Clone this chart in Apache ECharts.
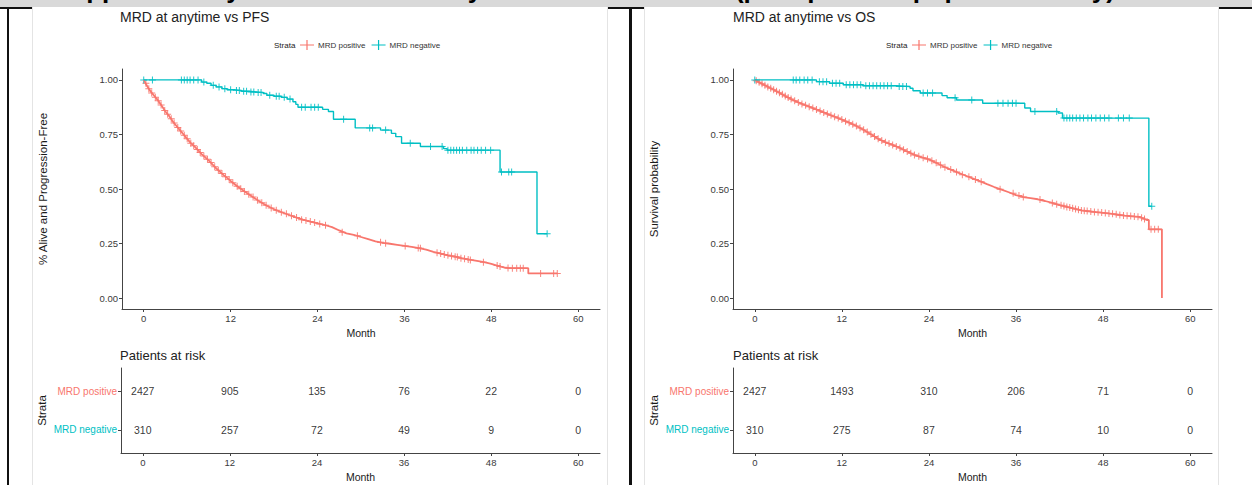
<!DOCTYPE html>
<html>
<head>
<meta charset="utf-8">
<script src="https://cdn.jsdelivr.net/npm/echarts@6.0.0/dist/echarts.min.js"></script>
<style>
  body { margin: 0; background: #fff; font-family: "Liberation Sans", Arial, sans-serif; }
  #page { position: relative; width: 1252px; height: 485px; overflow: hidden; background: #fff; }
  .banner { position: absolute; left: 0; top: 0; width: 1252px; height: 7px; background: #d9d9d9; overflow: hidden; }
  .banner span { position: absolute; left: 53px; top: -24px; font: bold 26px/26px "Liberation Sans", Arial, sans-serif; color: #000; white-space: nowrap; }
  .hline { position: absolute; left: 0; top: 7px; width: 1252px; height: 2px; background: #111; }
  .vline { position: absolute; top: 7px; bottom: 0; background: #111; }
  .panel { position: absolute; top: 7px; bottom: 0; background: #fff; border-left: 1px solid #e4e4e4; border-right: 1px solid #e4e4e4; }
  #main { position: absolute; left: 0; top: 0; width: 1252px; height: 485px; }
</style>
</head>
<body>
<div id="page">
  <div class="banner"><span>Supplementary: MRD status at anytime vs PFS and OS (pre-specified population only)</span></div>
  <div class="hline"></div>
  <div class="vline" style="left:7px;width:2px"></div>
  <div class="vline" style="left:629px;width:3px"></div>
  <div class="panel" style="left:32px;width:574px"></div>
  <div class="panel" style="left:644px;width:573px"></div>
  <div id="main"></div>
</div>
<script>
var RED = '#F8766D';
var TEAL = '#00BFC4';

// month ticks shared by all x axes
var monthTicks = [0, 12, 24, 36, 48, 60];
var survTicks = [0, 0.25, 0.5, 0.75, 1];

// PFS, MRD positive: [month, survival]
var pfsPos = [[0,1.00],[0.5,0.97],[1,0.945],[1.5,0.925],[2,0.905],[2.5,0.88],[3,0.855],[3.5,0.835],[4,0.81],[4.5,0.79],
  [5,0.77],[5.5,0.75],[6,0.73],[6.5,0.71],[7,0.695],[7.5,0.678],[8,0.66],[8.5,0.645],[9,0.63],[10,0.595],[11,0.565],
  [12,0.537],[13,0.51],[14,0.487],[15,0.465],[16,0.443],[17,0.423],[18,0.407],[19,0.394],[20,0.382],[21,0.37],[22,0.36],
  [23,0.351],[24,0.343],[25,0.335],[26,0.325],[27,0.31],[28,0.297],[29,0.29],[30,0.28],[31,0.27],[32,0.26],[33,0.253],
  [34,0.249],[35,0.244],[36,0.239],[37,0.235],[38,0.229],[39,0.222],[40,0.212],[41,0.204],[42,0.196],[43,0.19],[44,0.182],
  [45,0.176],[46,0.171],[47,0.165],[48,0.157],[49,0.147],[50,0.139],[50.5,0.137],[53.1,0.137],[53.1,0.113],[57.1,0.113]];
var pfsPosCens = [[0.3,0.985],[0.7,0.96],[1.1,0.94],[1.6,0.92],[2.0,0.905],[2.4,0.885],[2.9,0.86],[3.3,0.843],[3.8,0.822],
  [4.2,0.802],[4.7,0.782],[5.1,0.766],[5.6,0.746],[6.0,0.73],[6.5,0.71],[6.9,0.698],[7.4,0.681],[7.8,0.667],[8.3,0.651],
  [8.8,0.636],[9.3,0.621],[9.8,0.602],[10.3,0.586],[10.8,0.571],[11.3,0.556],[11.8,0.543],[12.3,0.529],[12.9,0.513],
  [13.4,0.501],[13.9,0.489],[14.5,0.476],[15.1,0.463],[15.7,0.449],[16.3,0.437],[16.9,0.425],[17.6,0.413],[18.3,0.403],
  [19.0,0.394],[19.7,0.386],[20.4,0.377],[21.1,0.369],[21.8,0.359],[22.4,0.356],[23.0,0.351],[23.6,0.346],[24.3,0.34],
  [25.1,0.334],[27.4,0.302],[29.5,0.286],[32.7,0.256],[33.4,0.251],[36.1,0.239],[37.9,0.23],[38.2,0.228],[40.5,0.208],
  [41.0,0.204],[41.5,0.2],[42.0,0.196],[42.5,0.193],[43.0,0.19],[43.3,0.188],[43.8,0.183],[44.3,0.18],[44.8,0.177],
  [45.1,0.175],[46.9,0.164],[48.8,0.149],[49.2,0.145],[50.3,0.138],[50.9,0.137],[51.5,0.137],[52.0,0.137],[52.4,0.137],
  [54.8,0.113],[56.6,0.113],[57.1,0.113]];

// PFS, MRD negative: step points [month, survival after the step]
var pfsNeg = [[0,1.00],[8.0,0.99],[8.7,0.985],[9.3,0.975],[10,0.968],[10.8,0.96],[11.5,0.955],[12.5,0.952],[13.5,0.948],
  [14.5,0.945],[15.5,0.942],[16.5,0.938],[17,0.93],[18,0.925],[19,0.92],[19.8,0.912],[20.6,0.9],[21,0.888],[21.3,0.875],
  [24.7,0.865],[25.5,0.855],[26.2,0.82],[29.2,0.78],[32.7,0.77],[34.2,0.755],[34.8,0.74],[35.6,0.71],[38.2,0.695],
  [41.4,0.685],[41.9,0.678],[49.2,0.578],[54.3,0.295],[55.7,0.295]];
var pfsNegCens = [[0,1],[1.2,1],[5.2,1],[5.6,1],[6.0,1],[6.4,1],[6.9,1],[7.5,1],[8.3,0.99],[9.6,0.975],[10.4,0.968],
  [11.2,0.96],[12,0.955],[12.8,0.952],[13.2,0.952],[13.8,0.948],[14.2,0.948],[14.8,0.945],[15.2,0.945],[15.8,0.942],
  [16.2,0.942],[17.4,0.93],[18.3,0.925],[18.7,0.925],[19.4,0.92],[20.2,0.912],[21.8,0.875],[22.3,0.875],[23.1,0.875],
  [23.6,0.875],[24.1,0.875],[27.6,0.82],[31.2,0.78],[31.6,0.78],[33.4,0.77],[36.8,0.71],[39.6,0.695],[41.2,0.695],
  [42.0,0.678],[42.4,0.678],[42.8,0.678],[43.2,0.678],[43.6,0.678],[44.0,0.678],[44.6,0.678],[45.2,0.678],[45.6,0.678],
  [46.1,0.678],[46.6,0.678],[47.2,0.678],[47.9,0.678],[49.4,0.578],[50.4,0.578],[50.8,0.578],[55.7,0.295]];

// OS, MRD positive
var osPos = [[0,1.0],[1,0.982],[2,0.965],[3,0.948],[4,0.93],[5,0.912],[6,0.897],[7,0.884],[8,0.871],[9,0.858],[10,0.844],
  [11,0.831],[12,0.818],[13,0.804],[14,0.789],[15,0.771],[16,0.751],[17,0.73],[18,0.714],[19,0.702],[20,0.688],[21,0.672],
  [22,0.656],[23,0.645],[24,0.636],[25,0.62],[26,0.603],[27,0.589],[28,0.575],[29,0.562],[30,0.549],[31,0.536],[32,0.522],
  [33,0.509],[34,0.497],[35,0.485],[36,0.472],[37,0.463],[38,0.458],[39,0.453],[40,0.445],[41,0.436],[42,0.426],[43,0.418],
  [44,0.41],[45,0.402],[46,0.398],[47,0.394],[48,0.391],[49,0.387],[50,0.382],[51,0.378],[52,0.375],[53,0.372],[54,0.358],
  [54.3,0.358],[54.3,0.315],[56.1,0.315],[56.1,0.0]];
var osPosCens = [[0.2,0.996],[0.6,0.989],[1.0,0.982],[1.4,0.975],[1.8,0.968],[2.2,0.962],[2.6,0.955],[3.0,0.948],[3.4,0.941],
  [3.8,0.934],[4.2,0.926],[4.6,0.919],[5.0,0.912],[5.5,0.905],[6.0,0.897],[6.5,0.89],[7.0,0.884],[7.5,0.877],[8.0,0.871],
  [8.5,0.864],[9.0,0.858],[9.5,0.851],[10.0,0.844],[10.5,0.838],[11.0,0.831],[11.5,0.825],[12.0,0.818],[12.5,0.811],
  [13.0,0.804],[13.5,0.797],[14.0,0.789],[14.5,0.78],[15.0,0.771],[15.5,0.761],[16.0,0.751],[16.5,0.741],[17.0,0.73],
  [17.5,0.722],[18.0,0.714],[18.5,0.708],[19.0,0.702],[19.5,0.695],[20.0,0.688],[20.5,0.68],[21.0,0.672],[21.5,0.664],
  [22.0,0.656],[22.6,0.65],[23.2,0.643],[23.8,0.638],[24.4,0.63],[25.0,0.62],[25.6,0.61],[26.2,0.6],[27.0,0.589],
  [27.8,0.578],[28.6,0.565],[29.5,0.556],[30.4,0.544],[31.2,0.533],[33.8,0.499],[35.6,0.48],[36.4,0.47],[37.0,0.463],
  [39.3,0.452],[41.0,0.436],[41.6,0.43],[42.2,0.425],[42.6,0.422],[43.0,0.418],[43.4,0.415],[43.8,0.412],[44.2,0.408],
  [44.6,0.405],[45.0,0.402],[45.4,0.4],[45.8,0.399],[46.3,0.397],[46.8,0.395],[47.3,0.393],[47.8,0.392],[48.3,0.39],
  [48.8,0.388],[49.3,0.386],[49.8,0.384],[50.3,0.381],[50.8,0.379],[51.3,0.377],[51.8,0.376],[52.3,0.374],[52.8,0.373],
  [53.3,0.368],[53.7,0.363],[54.6,0.315],[55.1,0.315],[55.6,0.315]];

// OS, MRD negative
var osNeg = [[0,1],[8.5,0.992],[10.3,0.985],[12.2,0.978],[14.9,0.973],[19.5,0.97],[21.4,0.962],[21.8,0.95],[22.8,0.94],
  [25.8,0.928],[26.5,0.918],[27.8,0.908],[31.4,0.893],[37.2,0.871],[38.0,0.855],[41.8,0.848],[42.4,0.825],[54.3,0.421],
  [54.7,0.421]];
var osNegCens = [[0,1],[5.3,1],[5.7,1],[6.2,1],[6.8,1],[7.3,1],[7.9,1],[8.9,0.992],[9.4,0.992],[9.9,0.992],[10.7,0.985],
  [11.2,0.985],[11.7,0.985],[12.6,0.978],[13.1,0.978],[13.6,0.978],[14.1,0.978],[14.6,0.978],[15.3,0.973],[15.8,0.973],
  [16.3,0.973],[16.8,0.973],[17.3,0.973],[17.8,0.973],[18.3,0.973],[18.8,0.973],[19.9,0.97],[20.4,0.97],[20.9,0.97],
  [23.2,0.94],[23.8,0.94],[24.5,0.94],[27.6,0.918],[29.9,0.908],[33.5,0.893],[34.2,0.893],[34.9,0.893],[35.5,0.893],
  [36.0,0.893],[38.6,0.855],[41.6,0.855],[42.6,0.825],[43.0,0.825],[43.4,0.825],[43.8,0.825],[44.3,0.825],[44.8,0.825],
  [45.3,0.825],[45.9,0.825],[46.4,0.825],[47.0,0.825],[47.6,0.825],[48.2,0.825],[48.8,0.825],[50.1,0.825],[50.8,0.825],
  [51.6,0.825],[54.7,0.421]];

// numbers at risk at monthTicks
var pfsRiskPos = [2427, 905, 135, 76, 22, 0];
var pfsRiskNeg = [310, 257, 72, 49, 9, 0];
var osRiskPos = [2427, 1493, 310, 206, 71, 0];
var osRiskNeg = [310, 275, 87, 74, 10, 0];

var plusPath = 'path://M4.3,0h1.4v4.3h4.3v1.4h-4.3v4.3h-1.4v-4.3h-4.3v-1.4h4.3z';
var legendIcon = 'path://M0,4.4h14v1.2h-14z M6.4,0h1.2v10h-1.2z';
var FONT = '"Liberation Sans", Arial, sans-serif';

function xAxis(gi) {
  return {
    type: 'value', gridIndex: gi, min: -3, max: 63,
    name: 'Month', nameLocation: 'middle', nameGap: 18,
    nameTextStyle: { fontSize: 10.5, color: '#1a1a1a', fontFamily: FONT },
    axisLine: { onZero: false, lineStyle: { color: '#444', width: 1 } },
    axisTick: { customValues: monthTicks, length: 3, lineStyle: { color: '#444' } },
    axisLabel: { customValues: monthTicks, fontSize: 9.5, color: '#3a3a3a', margin: 4, fontFamily: FONT },
    splitLine: { show: false }
  };
}

function survAxis(gi, title) {
  return {
    type: 'value', gridIndex: gi, min: -0.05, max: 1.05,
    name: title, nameLocation: 'middle', nameGap: 73,
    nameTextStyle: { fontSize: 11.5, color: '#1a1a1a', fontFamily: FONT },
    axisLine: { onZero: false, lineStyle: { color: '#444', width: 1 } },
    axisTick: { customValues: survTicks, length: 3, lineStyle: { color: '#444' } },
    axisLabel: { customValues: survTicks, fontSize: 9.5, color: '#3a3a3a', margin: 4, fontFamily: FONT,
      formatter: function (v) { return v.toFixed(2); } },
    splitLine: { show: false }
  };
}

function strataAxis(gi) {
  return {
    type: 'value', gridIndex: gi, min: 0.4, max: 2.6,
    name: 'Strata', nameLocation: 'middle', nameGap: 73,
    nameTextStyle: { fontSize: 11.5, color: '#1a1a1a', fontFamily: FONT },
    axisLine: { onZero: false, lineStyle: { color: '#444', width: 1 } },
    axisTick: { customValues: [1, 2], length: 3, lineStyle: { color: '#444' } },
    axisLabel: {
      customValues: [1, 2], margin: 4, fontFamily: FONT,
      formatter: function (v) { return v === 2 ? '{pos|MRD positive}' : '{neg|MRD negative}'; },
      rich: {
        pos: { color: RED, fontSize: 10, fontFamily: FONT },
        neg: { color: TEAL, fontSize: 10, fontFamily: FONT }
      }
    },
    splitLine: { show: false }
  };
}

function kmLine(name, data, color, idx, step) {
  return {
    name: name, type: 'line', xAxisIndex: idx, yAxisIndex: idx, data: data,
    step: step ? 'end' : false, showSymbol: false, silent: true,
    itemStyle: { color: color }, lineStyle: { color: color, width: step ? 1.4 : 1.8 }
  };
}

function censor(name, data, color, idx) {
  return {
    name: name, type: 'scatter', xAxisIndex: idx, yAxisIndex: idx, data: data,
    symbol: plusPath, symbolSize: 7, silent: true,
    itemStyle: { color: color, opacity: 0.9 }
  };
}

function riskRow(counts, row, idx) {
  return {
    type: 'scatter', xAxisIndex: idx, yAxisIndex: idx, silent: true,
    data: counts.map(function (n, i) { return [monthTicks[i], row, n]; }),
    symbolSize: 1, itemStyle: { color: 'transparent' },
    label: { show: true, position: 'inside', color: '#000', fontSize: 10.5, fontFamily: FONT,
      formatter: function (p) { return String(p.value[2]); } }
  };
}

function legend(left) {
  return {
    left: left, top: 40, padding: 0, itemWidth: 14, itemHeight: 10, itemGap: 6,
    icon: legendIcon, selectedMode: false,
    data: ['MRD positive', 'MRD negative'],
    textStyle: { fontSize: 8, color: '#333', fontFamily: FONT, padding: [0, 0, 0, -1] }
  };
}

function title(text, left, top, size) {
  return { text: text, left: left, top: top, padding: 0,
    textStyle: { fontSize: size, fontWeight: 'normal', color: '#222', fontFamily: FONT } };
}

var chart = echarts.init(document.getElementById('main'), null, { renderer: 'svg' });
chart.setOption({
  animation: false,
  backgroundColor: 'transparent',
  title: [
    title('MRD at anytime vs PFS', 120, 10, 14),
    title('MRD at anytime vs OS', 733, 10, 14),
    title('Strata', 274, 41, 8),
    title('Strata', 886, 41, 8),
    title('Patients at risk', 120, 349, 13),
    title('Patients at risk', 733, 349, 13)
  ],
  legend: [legend(300), legend(912)],
  grid: [
    { left: 122, top: 69, width: 478, height: 240 },
    { left: 733, top: 69, width: 479, height: 240 },
    { left: 121, top: 368, width: 479, height: 85 },
    { left: 733, top: 368, width: 479, height: 85 }
  ],
  xAxis: [xAxis(0), xAxis(1), xAxis(2), xAxis(3)],
  yAxis: [
    survAxis(0, '% Alive and Progression-Free'),
    survAxis(1, 'Survival probability'),
    strataAxis(2),
    strataAxis(3)
  ],
  series: [
    kmLine('MRD positive', pfsPos, RED, 0, false),
    censor('MRD positive', pfsPosCens, RED, 0),
    kmLine('MRD negative', pfsNeg, TEAL, 0, true),
    censor('MRD negative', pfsNegCens, TEAL, 0),
    kmLine('MRD positive', osPos, RED, 1, false),
    censor('MRD positive', osPosCens, RED, 1),
    kmLine('MRD negative', osNeg, TEAL, 1, true),
    censor('MRD negative', osNegCens, TEAL, 1),
    riskRow(pfsRiskPos, 2, 2),
    riskRow(pfsRiskNeg, 1, 2),
    riskRow(osRiskPos, 2, 3),
    riskRow(osRiskNeg, 1, 3)
  ]
});
</script>
</body>
</html>
